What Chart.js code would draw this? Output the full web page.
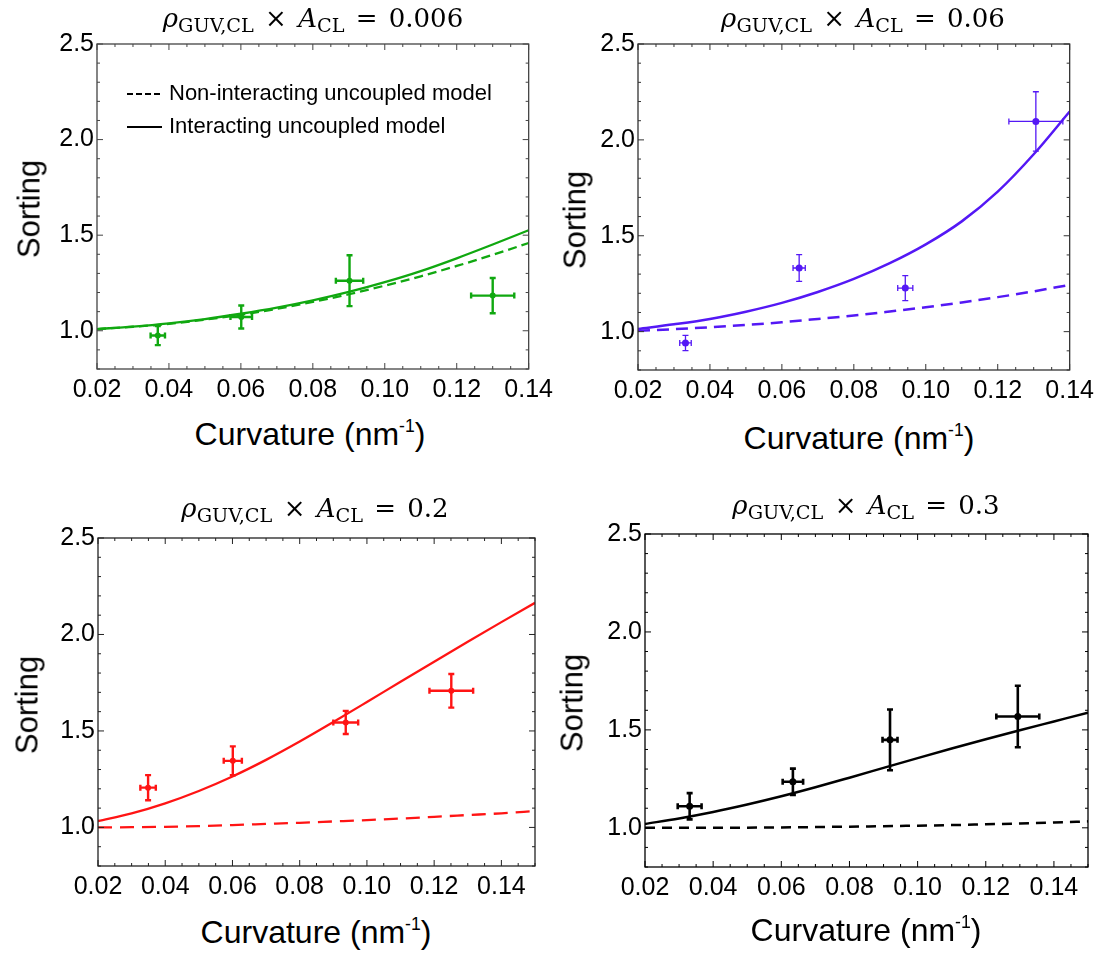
<!DOCTYPE html>
<html>
<head>
<meta charset="utf-8">
<script src="https://cdn.jsdelivr.net/npm/chart.js@4.4.0/dist/chart.umd.min.js"></script>
<style>
  body { margin:0; width:1103px; height:956px; overflow:hidden; background:#fff; position:relative;
         font-family:"Liberation Sans", Arial, sans-serif; color:#000; }
  canvas { position:absolute; }
  .title { position:absolute; font-family:"DejaVu Serif", serif; font-size:26px; white-space:nowrap;
           word-spacing:3px; transform:translate(-50%,-50%); line-height:1; }
  .title sub { font-size:74%; vertical-align:-0.28em; line-height:0; word-spacing:0; }
  .ylab { position:absolute; font-size:31px; white-space:nowrap; line-height:1;
          transform:translate(-50%,-50%) rotate(-90deg); }
  .xlab { position:absolute; font-size:32px; white-space:nowrap; line-height:1;
          transform:translate(-50%,-50%); }
  .xlab sup { font-size:55%; vertical-align:0.75em; line-height:0; }
</style>
</head>
<body>
<script>
// ---- data ----
var xTicks = [0.02, 0.04, 0.06, 0.08, 0.10, 0.12, 0.14];
var yTicks = [1.0, 1.5, 2.0, 2.5];
var curveX14 = [0.02, 0.03, 0.04, 0.05, 0.06, 0.07, 0.08, 0.09, 0.10, 0.11, 0.12, 0.13, 0.14];
var curveX15 = [0.02, 0.03, 0.04, 0.05, 0.06, 0.07, 0.08, 0.09, 0.10, 0.11, 0.12, 0.13, 0.14, 0.15];
var products = ['0.006', '0.06', '0.2', '0.3'];
var legendLabels = ['Non-interacting uncoupled model', 'Interacting uncoupled model'];

// rho*A = 0.006 (green)
var p1X    = [0.0369, 0.0601, 0.0902, 0.130];
var p1Y    = [0.975, 1.072, 1.262, 1.184];
var p1ErrX = [0.0020, 0.0030, 0.0038, 0.0060];
var p1ErrY = [0.050, 0.060, 0.133, 0.092];
var p1Inter    = [1.009, 1.022, 1.039, 1.061, 1.089, 1.121, 1.159, 1.203, 1.254, 1.312, 1.379, 1.451, 1.526];
var p1NonInter = [1.009, 1.021, 1.036, 1.058, 1.084, 1.115, 1.151, 1.191, 1.236, 1.285, 1.339, 1.397, 1.459];

// rho*A = 0.06 (blue)
var p2X    = [0.0332, 0.0648, 0.0943, 0.1306];
var p2Y    = [0.941, 1.332, 1.227, 2.096];
var p2ErrX = [0.0016, 0.0017, 0.0021, 0.0075];
var p2ErrY = [0.040, 0.070, 0.065, 0.155];
var p2Inter    = [1.014, 1.038, 1.066, 1.104, 1.150, 1.207, 1.275, 1.357, 1.455, 1.575, 1.730, 1.925, 2.148];
var p2NonInter = [1.005, 1.013, 1.023, 1.035, 1.049, 1.066, 1.084, 1.105, 1.127, 1.152, 1.180, 1.210, 1.244];

// rho*A = 0.2 (red)
var p3X    = [0.0349, 0.0601, 0.0937, 0.1251];
var p3Y    = [1.206, 1.345, 1.544, 1.708];
var p3ErrX = [0.0023, 0.0027, 0.0037, 0.0065];
var p3ErrY = [0.065, 0.075, 0.060, 0.087];
var p3Inter    = [1.033, 1.073, 1.125, 1.189, 1.264, 1.350, 1.445, 1.546, 1.650, 1.755, 1.859, 1.962, 2.064, 2.164];
var p3NonInter = [1.000, 1.001, 1.003, 1.007, 1.012, 1.018, 1.024, 1.031, 1.038, 1.046, 1.055, 1.064, 1.073, 1.085];

// rho*A = 0.3 (black)
var p4X    = [0.0331, 0.0634, 0.0919, 0.1294];
var p4Y    = [1.110, 1.235, 1.449, 1.568];
var p4ErrX = [0.0035, 0.0030, 0.0022, 0.0063];
var p4ErrY = [0.067, 0.067, 0.155, 0.157];
var p4Inter    = [1.020, 1.048, 1.081, 1.119, 1.161, 1.207, 1.256, 1.306, 1.356, 1.405, 1.452, 1.498, 1.543, 1.588];
var p4NonInter = [1.000, 1.000, 1.000, 1.001, 1.002, 1.004, 1.006, 1.008, 1.011, 1.014, 1.018, 1.022, 1.027, 1.033];

// ---- layout (page pixels of each plot frame) ----
var panels = [
  { box:{l:97, r:529, t:44, b:369},  xMax:0.14, cx:curveX14, px:p1X, py:p1Y, ex:p1ErrX, ey:p1ErrY, inter:p1Inter, non:p1NonInter,
    color:'#10a810', lw:2.3, ew:2.4, r:3, dash:[9,5], frame:'#444', legend:true,
    title:[313, 18], ylab:[29, 209], xlab:[310, 434] },
  { box:{l:638, r:1070, t:44, b:370}, xMax:0.14, cx:curveX14, px:p2X, py:p2Y, ex:p2ErrX, ey:p2ErrY, inter:p2Inter, non:p2NonInter,
    color:'#5418f5', lw:2.5, ew:1.3, r:3.5, dash:[12,7], frame:'#333',
    title:[863, 18], ylab:[575, 220], xlab:[859, 438] },
  { box:{l:98, r:535, t:538, b:866}, xMax:0.15, cx:curveX15, px:p3X, py:p3Y, ex:p3ErrX, ey:p3ErrY, inter:p3Inter, non:p3NonInter,
    color:'#ff1414', lw:2.3, ew:2.4, r:3, dash:[14,8], frame:'#222',
    title:[315, 508], ylab:[27, 705], xlab:[316, 932] },
  { box:{l:645, r:1088, t:534, b:867}, xMax:0.15, cx:curveX15, px:p4X, py:p4Y, ex:p4ErrX, ey:p4ErrY, inter:p4Inter, non:p4NonInter,
    color:'#000000', lw:2.5, ew:2.6, r:3.5, dash:[10,7], frame:'#000',
    title:[866, 505], ylab:[572, 703], xlab:[866, 930] }
];

var errorBars = {
  id: 'errorBars',
  afterDatasetsDraw: function(chart) {
    var ctx = chart.ctx, xs = chart.scales.x, ys = chart.scales.y;
    chart.data.datasets.forEach(function(ds) {
      if (!ds.errX) return;
      ctx.save();
      ctx.strokeStyle = ds.borderColor;
      ctx.lineWidth = ds.errWidth;
      var c = 3;
      ds.data.forEach(function(pt, i) {
        var x = xs.getPixelForValue(pt.x), y = ys.getPixelForValue(pt.y);
        var x0 = xs.getPixelForValue(pt.x - ds.errX[i]), x1 = xs.getPixelForValue(pt.x + ds.errX[i]);
        var y0 = ys.getPixelForValue(pt.y - ds.errY[i]), y1 = ys.getPixelForValue(pt.y + ds.errY[i]);
        ctx.beginPath();
        ctx.moveTo(x0, y); ctx.lineTo(x1, y);
        ctx.moveTo(x, y0); ctx.lineTo(x, y1);
        ctx.moveTo(x0, y - c); ctx.lineTo(x0, y + c);
        ctx.moveTo(x1, y - c); ctx.lineTo(x1, y + c);
        ctx.moveTo(x - c, y0); ctx.lineTo(x + c, y0);
        ctx.moveTo(x - c, y1); ctx.lineTo(x + c, y1);
        ctx.stroke();
      });
      ctx.restore();
    });
  }
};

// Mathematica style frame with ticks on all four sides
var frameTicks = {
  id: 'frameTicks',
  afterDatasetsDraw: function(chart, args, opts) {
    var ctx = chart.ctx, a = chart.chartArea, xs = chart.scales.x, ys = chart.scales.y;
    ctx.save();
    ctx.strokeStyle = opts.color || '#111';
    ctx.lineWidth = 1.3;
    ctx.strokeRect(a.left, a.top, a.right - a.left, a.bottom - a.top);
    ctx.lineWidth = 1;
    ctx.beginPath();
    var k, p, len;
    for (k = 4; k <= Math.round(xs.max * 200) ; k++) {   // steps of 0.005
      p = xs.getPixelForValue(k / 200);
      len = k % 4 === 0 ? 6 : 3;
      ctx.moveTo(p, a.bottom); ctx.lineTo(p, a.bottom - len);
      ctx.moveTo(p, a.top); ctx.lineTo(p, a.top + len);
    }
    for (k = 8; k <= 25; k++) {                          // steps of 0.1
      p = ys.getPixelForValue(k / 10);
      len = k % 5 === 0 ? 6 : 3;
      ctx.moveTo(a.left, p); ctx.lineTo(a.left + len, p);
      ctx.moveTo(a.right, p); ctx.lineTo(a.right - len, p);
    }
    ctx.stroke();
    ctx.restore();
  }
};

var inLegend = {
  id: 'inLegend',
  afterDraw: function(chart, args, opts) {
    if (!opts.show) return;
    var ctx = chart.ctx, a = chart.chartArea;
    ctx.save();
    ctx.strokeStyle = '#000';
    ctx.fillStyle = '#000';
    ctx.lineWidth = 2;
    ctx.font = '22px "Liberation Sans", Arial, sans-serif';
    ctx.textBaseline = 'middle';
    var rows = [[6, 3], []];
    legendLabels.forEach(function(lbl, i) {
      var y = a.top + 50 + i * 33;
      ctx.setLineDash(rows[i]);
      ctx.beginPath();
      ctx.moveTo(a.left + 30, y); ctx.lineTo(a.left + 65, y);
      ctx.stroke();
      ctx.fillText(lbl, a.left + 72, y);
    });
    ctx.restore();
  }
};

function addHtml(cls, html, pos) {
  var d = document.createElement('div');
  d.className = cls;
  d.innerHTML = html;
  d.style.left = pos[0] + 'px';
  d.style.top = pos[1] + 'px';
  document.body.appendChild(d);
}

panels.forEach(function(p, idx) {
  var padL = 95, padT = 20, padR = 30, padB = 45;
  var canvas = document.createElement('canvas');
  canvas.width = (p.box.r - p.box.l) + padL + padR;
  canvas.height = (p.box.b - p.box.t) + padT + padB;
  canvas.style.left = (p.box.l - padL) + 'px';
  canvas.style.top = (p.box.t - padT) + 'px';
  document.body.appendChild(canvas);

  var points = p.px.map(function(x, i) { return { x: x, y: p.py[i] }; });
  var inter = p.cx.map(function(x, i) { return { x: x, y: p.inter[i] }; });
  var non = p.cx.map(function(x, i) { return { x: x, y: p.non[i] }; });

  new Chart(canvas.getContext('2d'), {
    type: 'scatter',
    data: {
      datasets: [
        { label: 'Experiment', data: points, backgroundColor: p.color, borderColor: p.color,
          pointRadius: p.r, pointBorderWidth: 0, showLine: false,
          errX: p.ex, errY: p.ey, errWidth: p.ew },
        { label: legendLabels[1], data: inter, borderColor: p.color, borderWidth: p.lw,
          showLine: true, pointRadius: 0, cubicInterpolationMode: 'monotone' },
        { label: legendLabels[0], data: non, borderColor: p.color, borderWidth: p.lw,
          borderDash: p.dash, showLine: true, pointRadius: 0, cubicInterpolationMode: 'monotone' }
      ]
    },
    options: {
      responsive: false,
      animation: false,
      layout: { padding: { left: 0, top: padT, right: padR, bottom: 0 } },
      plugins: {
        legend: { display: false },
        tooltip: { enabled: false },
        inLegend: { show: !!p.legend },
        frameTicks: { color: p.frame }
      },
      scales: {
        x: {
          type: 'linear', min: 0.02, max: p.xMax,
          grid: { display: false, drawTicks: false },
          border: { display: false },
          afterBuildTicks: function(s) { s.ticks = xTicks.map(function(v) { return { value: v }; }); },
          afterFit: function(s) { s.height = padB; },
          ticks: { padding: 6, color: '#000', maxRotation: 0, autoSkip: false,
                   font: { family: '"Liberation Sans", Arial, sans-serif', size: 25 },
                   callback: function(v) { return Number(v).toFixed(2); } }
        },
        y: {
          type: 'linear', min: 0.8, max: 2.5,
          grid: { display: false, drawTicks: false },
          border: { display: false },
          afterBuildTicks: function(s) { s.ticks = yTicks.map(function(v) { return { value: v }; }); },
          afterFit: function(s) { s.width = padL; },
          ticks: { padding: 3, color: '#000', autoSkip: false,
                   font: { family: '"Liberation Sans", Arial, sans-serif', size: 25 },
                   callback: function(v) { return Number(v).toFixed(1); } }
        }
      }
    },
    plugins: [errorBars, frameTicks, inLegend]
  });

  addHtml('title', '<i>ρ</i><sub>GUV,CL</sub> × <i>A</i><sub>CL</sub> = ' + products[idx], p.title);
  addHtml('ylab', 'Sorting', p.ylab);
  addHtml('xlab', 'Curvature (nm<sup>-1</sup>)', p.xlab);
});
</script>
</body>
</html>
